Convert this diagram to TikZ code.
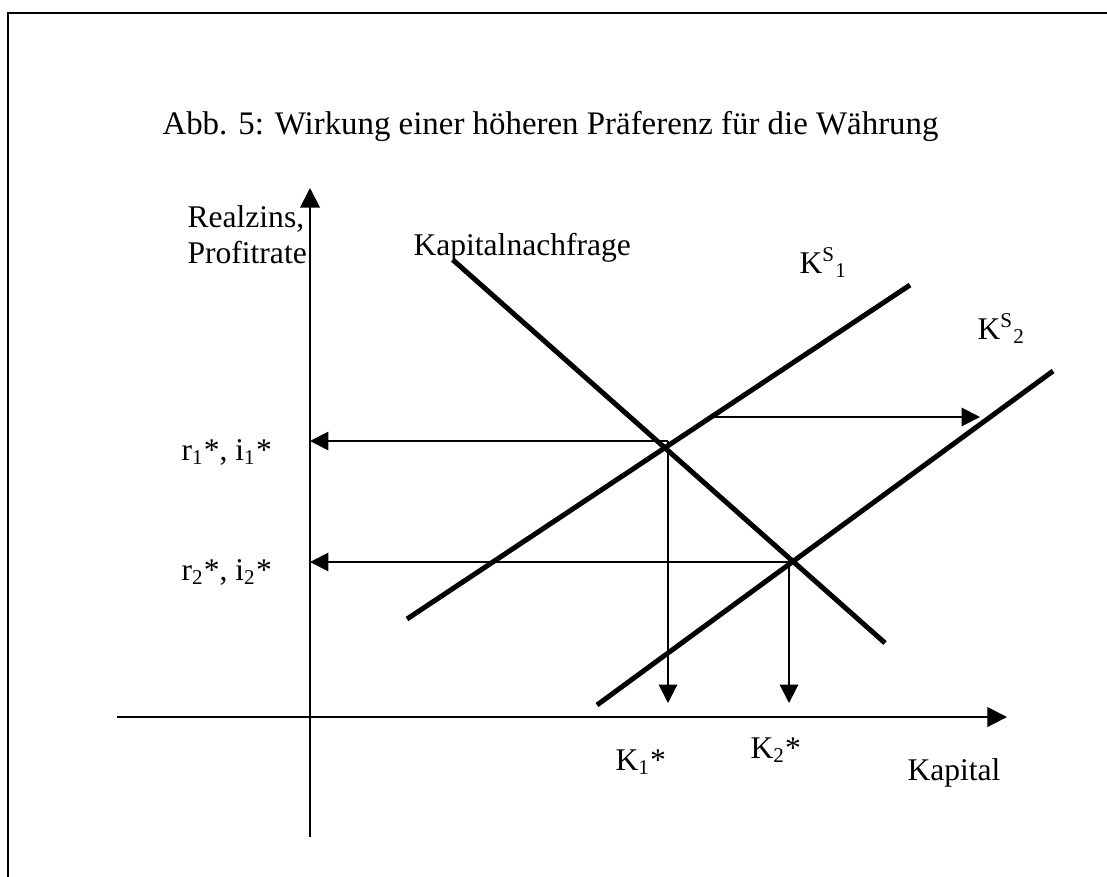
\documentclass[tikz,border=0pt]{standalone}
\usepackage{fontspec}
\setmainfont{Liberation Serif}
\usetikzlibrary{arrows.meta}
\tikzset{
  ax/.style={draw=black,line width=0.75pt,-{Triangle[length=7.5pt,width=7.5pt]}},
  pf/.style={draw=black,line width=0.75pt,-{Triangle[length=7pt,width=7pt]}},
  kurve/.style={draw=black,line width=1.9pt},
  lbl/.style={inner sep=0pt,anchor=base west,font=\fontsize{12}{14}\selectfont},
}

\begin{document}
\begin{tikzpicture}[x=0.38pt,y=-0.38pt]
  \useasboundingbox (0,0) rectangle (1107,876);
  % frame, open at right and bottom
  \draw[line width=0.9pt] (1112,13) -- (8,13) -- (8,882);
  \node[lbl,font=\fontsize{12.5}{14}\selectfont] (titel) at (162,134) {Abb. 5: Wirkung einer höheren Präferenz für die Währung};

  % axes
  \coordinate (yb) at (310,837);
  \coordinate (yt) at (310,188);
  \coordinate (xl) at (117,717);
  \coordinate (xr) at (1007,717);
  \draw[ax] (yb) -- (yt);
  \draw[ax] (xl) -- (xr);
  \node[lbl] (realz) at (187,227) {Realzins,};
  \node[lbl] (profit) at (187,263) {Profitrate};
  \node[lbl] (kap) at (907,780) {Kapital};

  % curves
  \coordinate (n1) at (453,260);
  \coordinate (n2) at (885,643);
  \coordinate (a1) at (407,619);
  \coordinate (b1) at (910,285);
  \coordinate (a2) at (597,705);
  \coordinate (b2) at (1053,371);
  \draw[kurve] (n1) -- (n2);
  \draw[kurve] (a1) -- (b1);
  \draw[kurve] (a2) -- (b2);
  \node[lbl] (nachfrage) at (413,255) {Kapitalnachfrage};
  \node[lbl] (ks1) at (799,273) {K\textsuperscript{S}\textsubscript{1}};
  \node[lbl] (ks2) at (977,339) {K\textsuperscript{S}\textsubscript{2}};

  % equilibria
  \coordinate (e1) at (668,441);
  \coordinate (e2) at (789,562);
  \coordinate (r1) at (310,441);
  \coordinate (r2) at (310,562);
  \coordinate (k1) at (668,703);
  \coordinate (k2) at (789,703);
  \draw[pf] (e1) -- (r1);
  \draw[pf] (e2) -- (r2);
  \draw[pf] (e1) -- (k1);
  \draw[pf] (e2) -- (k2);
  \node[lbl] (lr1) at (181,460) {r\textsubscript{1}*, i\textsubscript{1}*};
  \node[lbl] (lr2) at (181,580) {r\textsubscript{2}*, i\textsubscript{2}*};
  \node[lbl] (lk1) at (615,770) {K\textsubscript{1}*};
  \node[lbl] (lk2) at (750,758) {K\textsubscript{2}*};

  % shift of supply
  \coordinate (s1) at (713,417);
  \coordinate (s2) at (980,417);
  \draw[pf] (s1) -- (s2);
\end{tikzpicture}
\end{document}
